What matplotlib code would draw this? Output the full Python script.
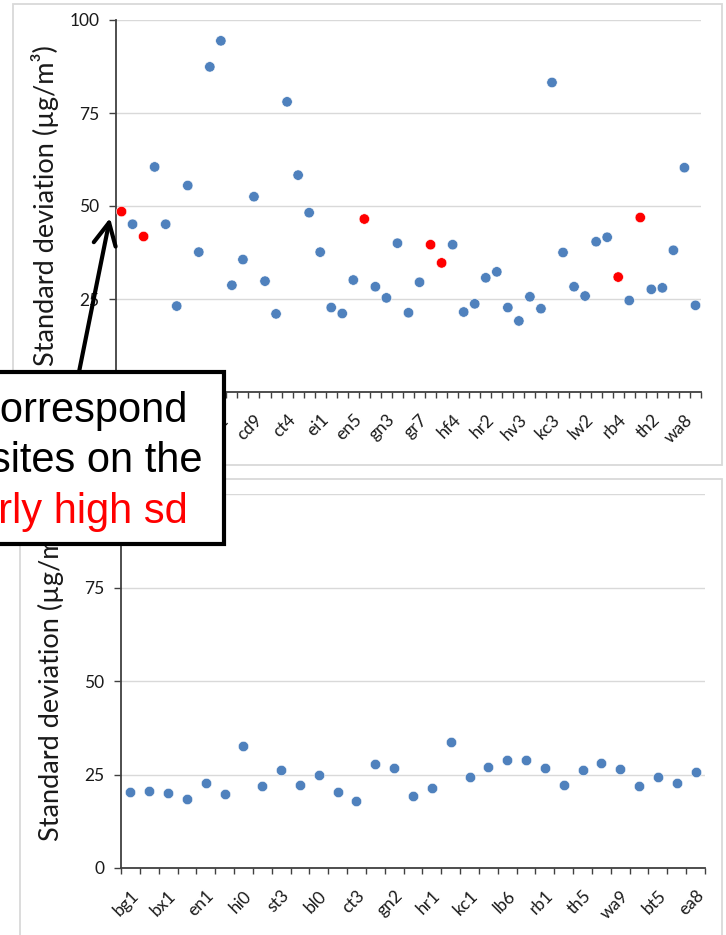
import numpy as np
import matplotlib
matplotlib.use("Agg")
import matplotlib.pyplot as plt
from matplotlib.patches import Rectangle, FancyArrowPatch

# ── data ─────────────────────────────────────────────────────────
top_sd = [48.5, 45.1, 41.8, 60.5, 45.1, 23.1, 55.5, 37.6, 87.4, 94.4,
          28.7, 35.6, 52.5, 29.8, 21.0, 78.0, 58.3, 48.2, 37.6, 22.7,
          21.1, 30.1, 46.5, 28.3, 25.3, 40.0, 21.3, 29.5, 39.6, 34.7,
          39.6, 21.5, 23.7, 30.7, 32.3, 22.7, 19.1, 25.6, 22.4, 83.2,
          37.5, 28.3, 25.8, 40.4, 41.6, 30.9, 24.6, 46.9, 27.6, 28.0,
          38.1, 60.3, 23.3]
top_high = [0, 2, 22, 28, 29, 45, 47]          # sites drawn in red
top_labels = ["bg1", "bl0", "bt5", "bx1", "cd9", "ct4", "ei1", "en5", "gn3",
              "gr7", "hf4", "hr2", "hv3", "kc3", "lw2", "rb4", "th2", "wa8"]

bot_sd = [20.3, 20.7, 20.0, 18.4, 22.8, 19.7, 32.7, 22.0, 26.3, 22.3,
          24.8, 20.2, 18.0, 27.7, 26.7, 19.2, 21.3, 33.7, 24.2, 27.1,
          28.9, 29.0, 26.8, 22.1, 26.2, 28.0, 26.5, 21.9, 24.4, 22.7,
          25.7]
bot_labels = ["bg1", "bx1", "en1", "hi0", "st3", "bl0", "ct3", "gn2",
              "hr1", "kc1", "lb6", "rb1", "th5", "wa9", "bt5", "ea8"]

y_ticks = [0, 25, 50, 75, 100]
y_title = "Standard deviation (µg/m³)"

BLUE = "#4F81BD"
RED = "#FF0000"
GRID = "#D9D9D9"
AXIS = "#404040"
TXT = "#1a1a1a"

W, H = 726, 935
plt.rcParams["font.family"] = ["Lato", "DejaVu Sans"]

fig = plt.figure(figsize=(W / 100, H / 100), dpi=100)


def px_axes(left, top, right, bottom):
    return fig.add_axes([left / W, 1 - bottom / H, (right - left) / W, (bottom - top) / H])


def style_axes(ax, n, label_every, labels):
    ax.set_xlim(-0.5, n - 0.5)
    ax.set_ylim(0, 100)
    ax.set_yticks(y_ticks)
    ax.grid(axis="y", color=GRID, lw=1.0, zorder=0)
    ax.set_axisbelow(True)
    for s in ("top", "right"):
        ax.spines[s].set_visible(False)
    for s in ("left", "bottom"):
        ax.spines[s].set_color(AXIS)
        ax.spines[s].set_linewidth(1.3)
    ax.tick_params(axis="y", length=5, width=1.0, color=AXIS, pad=7,
                   labelsize=12.5, labelcolor=TXT)
    ax.set_xticks(np.arange(-0.5, n, 1.0), minor=True)
    ax.set_xticks(np.arange(0, n, label_every))
    ax.set_xticklabels(labels, rotation=45, ha="right", va="top",
                       rotation_mode="anchor")
    ax.tick_params(axis="x", which="major", length=0, pad=14,
                   labelsize=12.5, labelcolor=TXT)
    ax.tick_params(axis="x", which="minor", length=4, width=1.0, color=AXIS)


# ── top chart ────────────────────────────────────────────────────
ax1 = px_axes(116, 20, 701, 392)
x1 = np.arange(len(top_sd))
c1 = [RED if i in top_high else BLUE for i in x1]
ax1.scatter(x1, top_sd, s=56, c=c1, edgecolors="white", linewidths=0.4, zorder=3)
style_axes(ax1, len(top_sd), 3, top_labels)

# ── bottom chart ─────────────────────────────────────────────────
ax2 = px_axes(121, 494, 705, 868)
x2 = np.arange(len(bot_sd))
ax2.scatter(x2, bot_sd, s=56, c=BLUE, edgecolors="white", linewidths=0.4, zorder=3)
style_axes(ax2, len(bot_sd), 2, bot_labels)

# ── overlay: frames, y titles, callout ───────────────────────────
ov = fig.add_axes([0, 0, 1, 1])
ov.set_xlim(0, W)
ov.set_ylim(H, 0)
ov.axis("off")
ov.patch.set_alpha(0)

ov.add_patch(Rectangle((13, 4), 722 - 13, 465 - 4, fill=False, ec=GRID, lw=1.3))
ov.add_patch(Rectangle((20, 479), 722 - 20, 470, fill=False, ec=GRID, lw=1.3))

ov.text(45, 206, y_title, rotation=90, ha="center", va="center",
        fontsize=19.5, color=TXT)
ov.text(50, 681, y_title, rotation=90, ha="center", va="center",
        fontsize=19.5, color=TXT)

ov.add_patch(Rectangle((-20, 372), 244, 172, fc="white", ec="black", lw=3, zorder=5))
callout = dict(ha="right", va="baseline", fontsize=30,
               family="Liberation Sans", zorder=6)
ov.text(188, 422, "correspond", color="black", **callout)
ov.text(202, 472, "sites on the", color="black", **callout)
ov.text(188, 523, "particularly high sd", color=RED, **callout)

ov.add_patch(FancyArrowPatch((79, 372), (110, 218),
                             arrowstyle="->,head_length=0.8,head_width=0.4",
                             mutation_scale=20, lw=3, color="black",
                             shrinkA=0, shrinkB=0, zorder=5))

fig.savefig("out.png", dpi=100)
